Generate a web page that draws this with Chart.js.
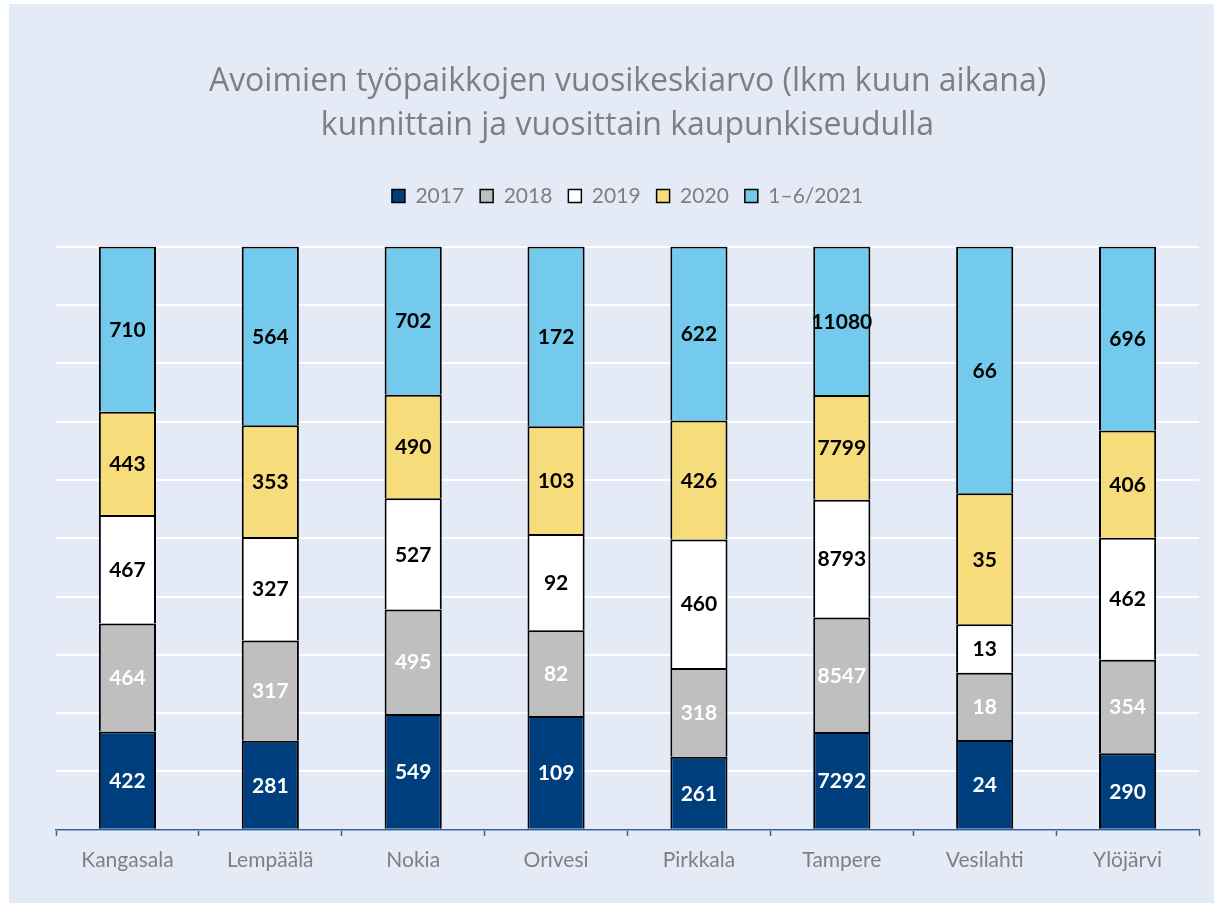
<!DOCTYPE html>
<html lang="fi">
<head>
<meta charset="utf-8">
<title>Avoimien työpaikkojen vuosikeskiarvo</title>
<script src="https://cdn.jsdelivr.net/npm/chart.js@4/dist/chart.umd.min.js"></script>
<style>
  html, body { margin: 0; padding: 0; background: #ffffff; }
  #wrap { position: absolute; left: 9px; top: 4px; width: 1205px; height: 899px; background: #E4EBF6; }
  canvas { display: block; }
</style>
</head>
<body>
<div id="wrap"><canvas id="chart" width="1205" height="899"></canvas></div>
<script>
// Municipalities of the city region
const municipalities = ['Kangasala', 'Lempäälä', 'Nokia', 'Orivesi', 'Pirkkala', 'Tampere', 'Vesilahti', 'Ylöjärvi'];

// Average number of open job vacancies per month, by year
const seriesNames = ['2017', '2018', '2019', '2020', '1–6/2021'];
const vac2017 = [422, 281, 549, 109, 261, 7292, 24, 290];
const vac2018 = [464, 317, 495, 82, 318, 8547, 18, 354];
const vac2019 = [467, 327, 527, 92, 460, 8793, 13, 462];
const vac2020 = [443, 353, 490, 103, 426, 7799, 35, 406];
const vac2021 = [710, 564, 702, 172, 622, 11080, 66, 696];

const seriesValues = [vac2017, vac2018, vac2019, vac2020, vac2021];
const fillColors = ['#003F7D', '#BFBFBF', '#FFFFFF', '#F6DC7B', '#74CAEC'];
const labelColors = ['#FFFFFF', '#FFFFFF', '#000000', '#000000', '#000000'];

// Each column is shown as shares of the municipality's total (100 % stack)
const totals = municipalities.map((_, i) => seriesValues.reduce((s, arr) => s + arr[i], 0));

const datasets = seriesNames.map((name, k) => ({
  label: name,
  data: seriesValues[k].map((v, i) => v / totals[i] * 100),
  counts: seriesValues[k],
  backgroundColor: fillColors[k],
  borderColor: '#000000',
  borderWidth: 2,
  categoryPercentage: 1.0,
  barPercentage: 0.4
}));

const FONT = "Lato, 'Open Sans', sans-serif";
const TITLE_FONT = "'Open Sans', Lato, sans-serif";
const GREY = '#7F7F7F';

// Writes the absolute count in the middle of each stacked segment
const segmentLabels = {
  id: 'segmentLabels',
  afterDatasetsDraw(chart) {
    const ctx = chart.ctx;
    ctx.save();
    ctx.textAlign = 'center';
    ctx.textBaseline = 'middle';
    ctx.font = 'bold 21px ' + FONT;
    chart.data.datasets.forEach((ds, k) => {
      const meta = chart.getDatasetMeta(k);
      if (meta.hidden) return;
      ctx.fillStyle = labelColors[k];
      meta.data.forEach((bar, i) => {
        const p = bar.getProps(['x', 'y', 'base'], true);
        ctx.fillText(String(ds.counts[i]), p.x, (p.y + p.base) / 2 + 1);
      });
    });
    ctx.restore();
  }
};

// Extra room between the legend and the plot
const legendGap = {
  id: 'legendGap',
  beforeLayout(chart) {
    const lg = chart.legend;
    if (lg && !lg._gapPatched) {
      const fit = lg.fit;
      lg.fit = function () { fit.call(this); this.height += 30; };
      lg._gapPatched = true;
    }
  }
};

new Chart(document.getElementById('chart'), {
  type: 'bar',
  data: { labels: municipalities, datasets },
  plugins: [legendGap, segmentLabels],
  options: {
    responsive: false,
    animation: false,
    layout: { padding: { left: 47, right: 15, top: 0, bottom: 18 } },
    plugins: {
      title: {
        display: true,
        fullSize: false,
        text: ['Avoimien työpaikkojen vuosikeskiarvo (lkm kuun aikana)', 'kunnittain ja vuosittain kaupunkiseudulla'],
        color: GREY,
        font: { family: TITLE_FONT, size: 32, weight: 'normal', lineHeight: 1.4 },
        padding: { top: 55, bottom: 21 }
      },
      legend: {
        display: true,
        fullSize: false,
        position: 'top',
        labels: {
          color: GREY,
          font: { family: FONT, size: 21 },
          boxWidth: 13,
          boxHeight: 13,
          padding: 16,
          generateLabels(chart) {
            return chart.data.datasets.map((ds, k) => ({
              text: ds.label,
              fillStyle: ds.backgroundColor,
              strokeStyle: '#000000',
              lineWidth: 1.5,
              fontColor: GREY,
              hidden: false,
              datasetIndex: k
            }));
          }
        }
      },
      tooltip: { enabled: false }
    },
    scales: {
      x: {
        stacked: true,
        offset: true,
        grid: {
          display: true,
          offset: true,
          drawOnChartArea: false,
          drawTicks: true,
          tickLength: 6,
          tickColor: '#2E5E9E',
          tickWidth: 1.5
        },
        border: { display: true, color: '#2E5E9E', width: 1.5 },
        ticks: {
          color: GREY,
          font: { family: FONT, size: 21 },
          padding: 12,
          maxRotation: 0
        }
      },
      y: {
        stacked: true,
        min: 0,
        max: 100,
        ticks: { display: false, stepSize: 10 },
        grid: { color: '#FFFFFF', lineWidth: 2, drawTicks: false },
        border: { display: false }
      }
    }
  }
});
</script>
</body>
</html>
